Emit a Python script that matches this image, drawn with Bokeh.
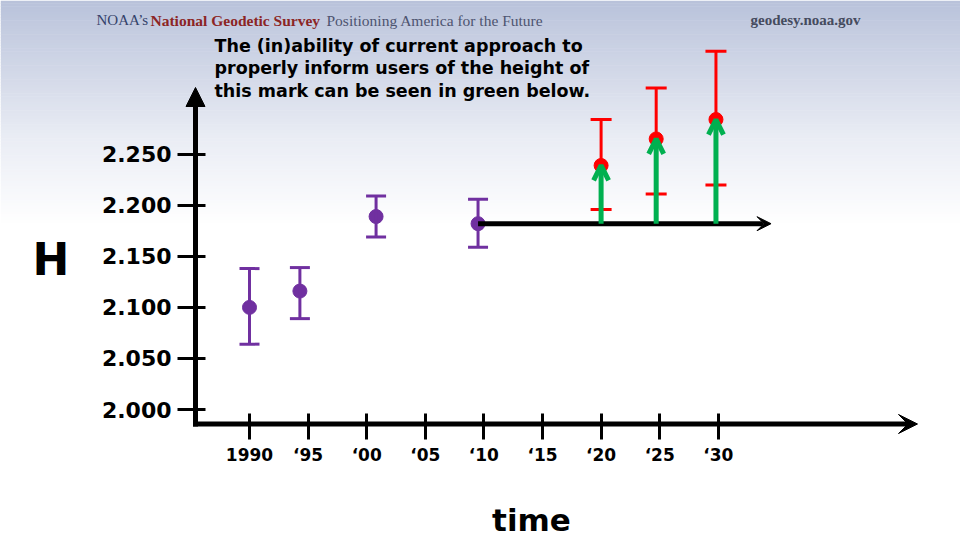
from bokeh.plotting import figure
from bokeh.models import (Range1d, FixedTicker, Whisker, TeeHead, Arrow, NormalHead,
                          VeeHead, OpenHead, ColumnDataSource)
from bokeh.core.properties import value
from bokeh.embed import file_html
from bokeh.resources import INLINE

# ---------------- data ----------------
x_ticks = [1990, 1995, 2000, 2005, 2010, 2015, 2020, 2025, 2030]
x_tick_labels = ["1990", "\u201895", "\u201800", "\u201805", "\u201810",
                 "\u201815", "\u201820", "\u201825", "\u201830"]
y_ticks = [2.000, 2.050, 2.100, 2.150, 2.200, 2.250]
y_tick_labels = ["2.000", "2.050", "2.100", "2.150", "2.200", "2.250"]

# observed heights (purple) with uncertainty
past_years = [1990.0, 1994.3, 2000.8, 2009.5]
past_height = [2.100, 2.116, 2.189, 2.182]
past_upper = [2.138, 2.139, 2.209, 2.206]
past_lower = [2.064, 2.089, 2.169, 2.159]

# future true heights (red) with uncertainty
future_years = [2020.0, 2024.7, 2029.8]
future_height = [2.239, 2.265, 2.284]
future_upper = [2.284, 2.315, 2.351]
future_lower = [2.196, 2.211, 2.220]

# published (frozen) height line
published_height = 2.182
published_start = 2009.5
published_end = 2034.5

title_lines = ["The (in)ability of current approach to",
               "properly inform users of the height of",
               "this mark can be seen in green below."]

PURPLE = "#7030a0"
RED = "#ff0000"
GREEN = "#00b050"


def vy(py):  # page-pixel y -> data y (layout helper for annotations)
    return 2.0 + (409 - py) / 1021.0


def vx(px):  # page-pixel x -> data x (layout helper for annotations)
    return 1990.0 + (px - 249) / 11.72


# ---------------- figure ----------------
X0, X1 = vx(0), vx(960)
Y0, Y1 = vy(540), vy(0)
p = figure(width=960, height=540, x_range=Range1d(X0, X1), y_range=Range1d(Y0, Y1),
           output_backend="svg", toolbar_location=None, min_border=0,
           outline_line_color=None, background_fill_color="white",
           border_fill_color="white")
p.grid.visible = False


# background gradient (slide design)
def mix(c0, c1, t):
    return "#%02x%02x%02x" % tuple(int(round(a + (b - a) * t)) for a, b in zip(c0, c1))


stops = [(0.0, (184, 193, 218)), (0.12, (195, 203, 224)), (0.35, (212, 218, 233)),
         (0.6, (233, 236, 244)), (1.0, (255, 255, 255))]
grad_top, grad_bot = Y1, vy(225)
n = 80
tops, bots, cols = [], [], []
for i in range(n):
    t = (i + 0.5) / n
    c = "#ffffff"
    for (a, ca), (b, cb) in zip(stops[:-1], stops[1:]):
        if a <= t <= b:
            c = mix(ca, cb, (t - a) / (b - a))
            break
    tops.append(grad_top - (grad_top - grad_bot) * i / n)
    bots.append(grad_top - (grad_top - grad_bot) * (i + 1) / n - 0.0005)
    cols.append(c)
p.quad(left=X0, right=X1, top=tops, bottom=bots, fill_color=cols, line_color=None)

# ---------------- axes ----------------
AX_X = vx(195)
AX_Y = vy(423.5)

xa = p.xaxis[0]
xa.fixed_location = AX_Y
xa.ticker = FixedTicker(ticks=x_ticks)
xa.major_label_overrides = dict(zip(x_ticks, x_tick_labels))
xa.axis_line_color = None
xa.major_tick_in = 11
xa.major_tick_out = 15
xa.major_tick_line_width = 3
xa.major_tick_line_color = "black"
xa.minor_tick_line_color = None
xa.major_label_text_font = "DejaVu Sans"
xa.major_label_text_font_style = "bold"
xa.major_label_text_font_size = "17px"
xa.major_label_text_color = "black"
xa.major_label_standoff = 6

ya = p.yaxis[0]
ya.fixed_location = AX_X
ya.ticker = FixedTicker(ticks=y_ticks)
ya.major_label_overrides = dict(zip(y_ticks, y_tick_labels))
ya.axis_line_color = None
ya.major_tick_in = 10
ya.major_tick_out = 18
ya.major_tick_line_width = 3
ya.major_tick_line_color = "black"
ya.minor_tick_line_color = None
ya.major_label_text_font = "DejaVu Sans"
ya.major_label_text_font_style = "bold"
ya.major_label_text_font_size = "22px"
ya.major_label_text_color = "black"
ya.major_label_standoff = 6

# axis lines as arrows
p.add_layout(Arrow(end=NormalHead(size=19, fill_color="black", line_color="black", line_width=1),
                   x_start=AX_X, y_start=vy(426), x_end=AX_X, y_end=vy(87),
                   line_width=5, line_color="black"))
p.add_layout(Arrow(end=VeeHead(size=19, fill_color="black", line_color="black", line_width=1),
                   x_start=vx(192.5), y_start=AX_Y, x_end=vx(917), y_end=AX_Y,
                   line_width=5, line_color="black"))

# ---------------- data marks ----------------
src_past = ColumnDataSource(dict(x=past_years, y=past_height, upper=past_upper, lower=past_lower))
src_future = ColumnDataSource(dict(x=future_years, y=future_height, upper=future_upper,
                                   lower=future_lower,
                                   base=[published_height] * len(future_years)))

p.scatter("x", "y", source=src_past, size=14, color=PURPLE)
p.add_layout(Whisker(source=src_past, base="x", upper="upper", lower="lower", dimension="height",
                     line_color=PURPLE, line_width=3, level="annotation",
                     upper_head=TeeHead(size=20, line_color=PURPLE, line_width=3),
                     lower_head=TeeHead(size=20, line_color=PURPLE, line_width=3)))

p.add_layout(Whisker(source=src_future, base="x", upper="upper", lower="lower", dimension="height",
                     line_color=RED, line_width=3, level="annotation",
                     upper_head=TeeHead(size=21, line_color=RED, line_width=3),
                     lower_head=TeeHead(size=21, line_color=RED, line_width=3)))
p.scatter("x", "y", source=src_future, size=14, color=RED, level="annotation")

# published height: flat black arrow
p.add_layout(Arrow(end=VeeHead(size=14, fill_color="black", line_color="black", line_width=1),
                   x_start=published_start, y_start=published_height,
                   x_end=published_end, y_end=published_height,
                   line_width=5, line_color="black"))

# green arrows: gap between published and true height
p.add_layout(Arrow(source=src_future, x_start="x", y_start="base", x_end="x", y_end="y",
                   line_color=GREEN, line_width=5,
                   end=OpenHead(size=15, line_color=GREEN, line_width=5)))

# ---------------- texts ----------------
p.text(x=[vx(214)] * 3, y=[vy(45.5), vy(67.8), vy(90.1)], text=title_lines,
       text_font=value("DejaVu Sans"), text_font_style="bold", text_font_size="17.5px",
       text_color="black", text_align="left", text_baseline="alphabetic")

p.text(x=[vx(50.5)], y=[vy(259)], text=["H"], text_font=value("DejaVu Sans"),
       text_font_style="bold", text_font_size="44px", text_color="black",
       text_align="center", text_baseline="alphabetic")

p.text(x=[vx(531)], y=[vy(519.5)], text=["time"], text_font=value("DejaVu Sans"),
       text_font_style="bold", text_font_size="31px", text_color="black",
       text_align="center", text_baseline="alphabetic")

# slide header
hy = vy(19.5)
p.text(x=[vx(96)], y=[hy], text=["NOAA\u2019s"], text_font=value("Liberation Serif"),
       text_font_size="15px", text_color="#34426a", text_baseline="alphabetic")
p.text(x=[vx(150)], y=[hy], text=["National Geodetic Survey"], text_font=value("Liberation Serif"),
       text_font_style="bold", text_font_size="15.5px", text_color="#8c2525",
       text_baseline="alphabetic")
p.text(x=[vx(326)], y=[hy], text=["Positioning America for the Future"],
       text_font=value("Liberation Serif"), text_font_size="15.5px", text_color="#4d5470",
       text_baseline="alphabetic")
p.text(x=[vx(750)], y=[hy], text=["geodesy.noaa.gov"], text_font=value("Liberation Serif"),
       text_font_style="bold", text_font_size="15px", text_color="#454b5e",
       text_baseline="alphabetic")

open("out.html", "w").write(file_html(p, INLINE))
